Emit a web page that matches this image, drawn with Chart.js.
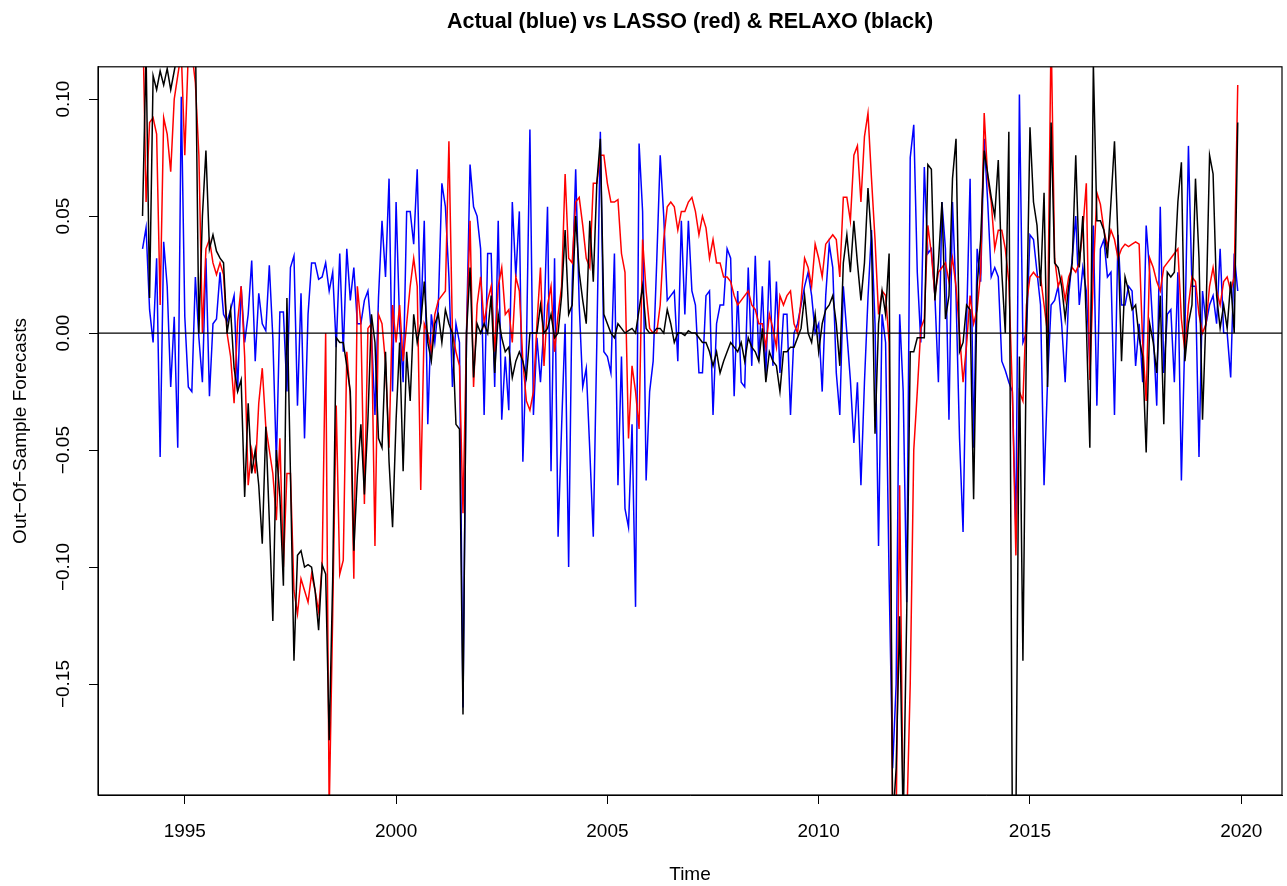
<!DOCTYPE html>
<html>
<head>
<meta charset="utf-8">
<title>Actual vs LASSO & RELAXO</title>
<script src="https://cdn.jsdelivr.net/npm/chart.js@4.4.1/dist/chart.umd.min.js"></script>
<style>
  html, body { margin: 0; padding: 0; background: #fff; }
  #wrap { width: 1287px; height: 886px; }
</style>
</head>
<body>
<div id="wrap"><canvas id="forecastChart" width="1287" height="886"></canvas></div>
<script>
// monthly series, Jan 1994 - Dec 2019 (one row per year)
const startYear = 1994;

const actual = [
  0.036, 0.045, 0.010, -0.004, 0.032, -0.053, 0.039, 0.020, -0.023, 0.007, -0.049, 0.101,
  0.007, -0.023, -0.025, 0.024, -0.002, -0.021, 0.032, -0.027, 0.004, 0.006, 0.026, 0.008,
  0.005, 0.010, 0.016, -0.025, 0.020, -0.004, 0.008, 0.031, -0.012, 0.017, 0.004, 0.001,
  0.029, -0.002, -0.055, 0.009, 0.009, -0.025, 0.028, 0.033, -0.031, 0.017, -0.045, 0.008,
  0.030, 0.030, 0.023, 0.024, 0.030, 0.018, 0.026, -0.006, 0.034, -0.008, 0.036, 0.014,
  0.028, 0.004, 0.004, 0.014, 0.018, 0.000, -0.035, 0.015, 0.048, 0.024, 0.066, -0.025,
  0.056, 0.004, -0.021, 0.052, 0.052, 0.038, 0.070, 0.004, 0.048, -0.039, 0.008, -0.004,
  0.012, 0.064, 0.054, 0.024, -0.023, 0.004, -0.004, -0.160, 0.000, 0.072, 0.054, 0.050,
  0.036, -0.035, 0.034, 0.034, -0.023, 0.048, -0.037, -0.010, -0.033, 0.056, 0.024, 0.052,
  -0.055, -0.008, 0.087, -0.035, -0.002, -0.021, 0.004, 0.054, -0.059, 0.032, -0.087, -0.040,
  0.004, -0.100, 0.020, 0.070, 0.012, -0.023, -0.015, -0.050, -0.087, -0.004, 0.086, -0.008,
  -0.010, -0.017, 0.034, -0.065, -0.010, -0.075, -0.083, -0.039, -0.117, 0.081, 0.052, -0.063,
  -0.025, -0.012, 0.030, 0.076, 0.050, 0.014, 0.016, 0.018, -0.012, 0.048, 0.008, 0.048,
  0.018, 0.012, -0.017, -0.017, 0.016, 0.018, -0.035, 0.004, 0.012, 0.012, 0.036, 0.032,
  -0.027, 0.018, -0.021, -0.023, 0.028, -0.014, 0.033, -0.012, 0.020, -0.018, 0.031, -0.014,
  0.022, -0.017, 0.008, 0.008, -0.035, 0.000, 0.004, 0.012, 0.020, 0.026, 0.016, 0.000,
  0.004, -0.025, 0.016, 0.038, 0.028, -0.017, -0.035, 0.020, 0.000, -0.020, -0.047, -0.021,
  -0.065, -0.021, 0.015, 0.044, 0.004, -0.091, 0.008, -0.004, -0.105, -0.186, -0.150, 0.008,
  -0.025, -0.115, 0.075, 0.089, 0.026, -0.004, 0.071, 0.034, 0.036, 0.016, -0.021, 0.056,
  0.036, -0.037, 0.056, 0.016, -0.045, -0.085, 0.004, 0.066, -0.049, 0.036, 0.022, 0.083,
  0.056, 0.024, 0.028, 0.024, -0.012, -0.016, -0.021, -0.025, -0.085, 0.102, -0.004, 0.000,
  0.042, 0.040, 0.026, 0.012, -0.065, -0.020, 0.012, 0.014, 0.020, 0.004, -0.021, 0.016,
  0.032, 0.050, 0.012, 0.028, 0.018, -0.014, 0.046, -0.031, 0.036, 0.040, 0.024, 0.026,
  -0.035, 0.042, 0.012, 0.012, 0.020, 0.018, -0.014, 0.004, -0.021, 0.046, 0.026, 0.000,
  -0.031, 0.054, -0.017, 0.008, 0.010, -0.021, 0.026, -0.063, 0.000, 0.080, 0.020, 0.020,
  -0.053, 0.018, 0.004, 0.012, 0.016, 0.004, 0.036, 0.000, 0.000, -0.019, 0.034, 0.018
];

const lasso = [
  0.140, 0.056, 0.090, 0.092, 0.085, 0.012, 0.092, 0.085, 0.069, 0.100, 0.110, 0.120,
  0.076, 0.120, 0.120, 0.107, 0.076, 0.000, 0.036, 0.040, 0.030, 0.025, 0.030, 0.025,
  0.000, -0.010, -0.030, 0.005, 0.020, -0.010, -0.065, -0.050, -0.060, -0.030, -0.015, -0.040,
  -0.050, -0.060, -0.080, -0.045, -0.100, -0.060, -0.060, -0.110, -0.120, -0.105, -0.110, -0.115,
  -0.103, -0.110, -0.119, -0.099, 0.000, -0.205, -0.120, -0.031, -0.103, -0.097, -0.008, -0.027,
  -0.105, 0.020, 0.004, -0.073, 0.002, 0.004, -0.091, 0.008, 0.004, -0.013, -0.049, 0.012,
  -0.004, 0.012, -0.012, 0.004, 0.020, 0.032, 0.020, -0.067, 0.004, 0.000, -0.008, 0.008,
  0.014, 0.016, 0.018, 0.082, 0.000, -0.008, -0.014, -0.077, 0.000, 0.048, -0.023, 0.012,
  0.024, 0.004, 0.014, 0.020, -0.008, 0.020, 0.028, 0.008, 0.010, -0.004, 0.024, 0.018,
  -0.012, -0.029, -0.033, -0.025, 0.004, 0.028, -0.014, 0.012, 0.020, -0.008, 0.008, 0.020,
  0.068, 0.032, 0.030, 0.056, 0.058, 0.046, 0.032, 0.028, 0.064, 0.064, 0.076, 0.076,
  0.064, 0.056, 0.056, 0.057, 0.034, 0.026, -0.045, -0.014, -0.025, -0.041, 0.040, 0.018,
  0.002, 0.000, 0.000, 0.012, 0.040, 0.054, 0.056, 0.054, 0.044, 0.052, 0.052, 0.056,
  0.058, 0.052, 0.042, 0.050, 0.045, 0.032, 0.040, 0.030, 0.030, 0.024, 0.024, 0.022,
  0.016, 0.012, 0.014, 0.016, 0.018, 0.012, 0.010, 0.004, 0.004, -0.006, 0.008, 0.002,
  -0.006, 0.016, 0.012, 0.016, 0.018, 0.004, 0.000, 0.014, 0.032, 0.028, 0.020, 0.038,
  0.032, 0.024, 0.038, 0.040, 0.042, 0.040, 0.024, 0.058, 0.058, 0.048, 0.076, 0.080,
  0.056, 0.084, 0.094, 0.066, 0.040, 0.008, 0.018, 0.016, -0.004, -0.210, -0.210, -0.065,
  -0.210, -0.210, -0.150, -0.050, -0.025, 0.002, 0.006, 0.046, 0.034, 0.016, 0.026, 0.028,
  0.030, 0.022, 0.032, 0.020, 0.000, -0.021, -0.005, 0.016, 0.004, 0.010, 0.026, 0.094,
  0.066, 0.056, 0.036, 0.044, 0.044, 0.036, 0.022, -0.025, -0.095, -0.025, -0.029, 0.012,
  0.024, 0.026, 0.024, 0.024, 0.012, 0.000, 0.130, 0.032, 0.020, 0.024, 0.014, 0.024,
  0.028, 0.026, 0.030, 0.044, 0.064, -0.020, 0.025, 0.060, 0.055, 0.044, 0.037, 0.044,
  0.040, 0.032, 0.036, 0.038, 0.037, 0.038, 0.039, 0.038, -0.004, -0.029, 0.032, 0.028,
  0.022, 0.018, 0.028, 0.030, 0.032, 0.034, 0.036, 0.006, -0.008, 0.012, 0.024, 0.022,
  0.008, 0.000, 0.004, 0.020, 0.028, 0.018, 0.012, 0.022, 0.024, 0.018, 0.024, 0.106
];

const relaxo = [
  0.050, 0.120, 0.015, 0.110, 0.104, 0.112, 0.106, 0.113, 0.104, 0.112, 0.120, 0.125,
  0.130, 0.120, 0.130, 0.130, 0.000, 0.050, 0.078, 0.036, 0.042, 0.035, 0.032, 0.030,
  0.000, 0.010, -0.015, -0.025, -0.020, -0.070, -0.030, -0.060, -0.050, -0.065, -0.090, -0.040,
  -0.080, -0.123, -0.050, -0.070, -0.108, 0.015, -0.060, -0.140, -0.095, -0.093, -0.100, -0.099,
  -0.100, -0.110, -0.127, -0.099, -0.103, -0.174, -0.105, -0.002, -0.004, -0.004, -0.014, -0.025,
  -0.093, -0.061, -0.039, -0.069, -0.037, 0.008, -0.004, -0.045, -0.049, -0.008, -0.055, -0.083,
  -0.037, -0.004, -0.059, -0.008, -0.029, 0.008, -0.004, 0.004, 0.022, -0.004, -0.012, 0.004,
  0.008, -0.004, 0.010, 0.004, 0.000, -0.039, -0.041, -0.163, 0.000, 0.028, -0.019, 0.004,
  0.000, 0.004, 0.000, 0.016, -0.017, 0.008, -0.002, -0.008, -0.006, -0.019, -0.012, -0.008,
  -0.012, -0.019, 0.000, 0.000, 0.000, 0.012, 0.000, 0.002, 0.008, -0.002, 0.000, 0.016,
  0.044, 0.008, 0.012, 0.050, 0.026, 0.014, 0.004, 0.048, 0.022, 0.064, 0.083, 0.008,
  0.004, 0.000, -0.002, 0.004, 0.002, 0.000, 0.001, 0.002, 0.000, 0.010, 0.020, 0.002,
  0.000, 0.000, 0.002, 0.002, 0.000, 0.010, 0.004, -0.004, 0.000, 0.000, -0.001, 0.001,
  0.000, 0.000, -0.002, -0.004, -0.004, -0.008, -0.014, -0.008, -0.017, -0.012, -0.008, -0.004,
  -0.006, -0.008, -0.004, -0.012, -0.002, -0.006, -0.008, -0.012, 0.002, -0.021, -0.008, -0.012,
  -0.014, -0.025, -0.008, -0.008, -0.006, -0.006, -0.002, 0.002, 0.016, 0.000, -0.004, 0.008,
  -0.008, 0.004, 0.010, 0.012, 0.016, 0.004, -0.014, 0.030, 0.042, 0.026, 0.048, 0.030,
  0.014, 0.030, 0.062, 0.040, -0.043, 0.004, 0.018, 0.008, 0.034, -0.210, -0.186, -0.121,
  -0.210, -0.120, -0.008, -0.008, -0.002, -0.002, -0.002, 0.072, 0.070, 0.014, 0.030, 0.056,
  0.006, 0.016, 0.066, 0.083, -0.008, -0.004, 0.012, 0.010, -0.071, 0.020, 0.040, 0.078,
  0.068, 0.058, 0.050, 0.074, 0.026, 0.000, 0.086, -0.210, -0.210, -0.010, -0.140, 0.000,
  0.088, 0.056, 0.046, 0.020, 0.060, -0.023, 0.090, 0.030, 0.028, 0.020, 0.006, 0.020,
  0.030, 0.076, 0.028, 0.050, 0.004, -0.049, 0.115, 0.048, 0.048, 0.044, 0.032, 0.056,
  0.082, 0.040, -0.012, 0.024, 0.018, 0.010, 0.012, -0.002, -0.010, -0.051, 0.004, -0.004,
  -0.017, 0.016, -0.039, 0.026, 0.024, 0.026, 0.056, 0.073, -0.012, 0.004, 0.012, 0.066,
  0.032, -0.037, 0.008, 0.076, 0.068, 0.016, 0.002, 0.012, 0.002, 0.022, 0.000, 0.090
];

const yearTicks = [1995, 2000, 2005, 2010, 2015, 2020];
const valueTicks = [-0.15, -0.10, -0.05, 0.00, 0.05, 0.10];

const FONT = '"Liberation Sans", Arial, Helvetica, sans-serif';

function toPoints(values) {
    return values.map((v, i) => ({ x: startYear + i / 12, y: v }));
}

// R-style frame, zero line and vertical y tick labels
const rStyle = {
    id: 'rStyle',
    afterDatasetsDraw(chart) {
        const ctx = chart.ctx;
        const a = chart.chartArea;
        const y0 = chart.scales.y.getPixelForValue(0);
        ctx.save();
        ctx.strokeStyle = '#000';
        ctx.lineWidth = 1.4;
        ctx.beginPath();
        ctx.moveTo(a.left, y0);
        ctx.lineTo(a.right, y0);
        ctx.stroke();
        ctx.lineWidth = 1.2;
        ctx.strokeRect(a.left, a.top, a.right - a.left, a.bottom - a.top);
        ctx.restore();
    },
    afterDraw(chart) {
        const ctx = chart.ctx;
        const ys = chart.scales.y;
        ctx.save();
        ctx.fillStyle = '#000';
        ctx.font = '19px ' + FONT;
        ctx.textAlign = 'center';
        ctx.textBaseline = 'middle';
        ys.ticks.forEach(t => {
            const py = ys.getPixelForValue(t.value);
            ctx.save();
            ctx.translate(64, py);
            ctx.rotate(-Math.PI / 2);
            ctx.fillText(t.value.toFixed(2).replace('-', '\u2212'), 0, 0);
            ctx.restore();
        });
        ctx.restore();
    }
};

const ctx = document.getElementById('forecastChart');

let forecastChart = new Chart(ctx, {
    type: 'line',
    data: {
        datasets: [
            {
                label: 'Actual',
                data: toPoints(actual),
                borderColor: '#0000ff',
                borderWidth: 1.5,
                pointRadius: 0,
                tension: 0,
                fill: false,
                order: 3
            },
            {
                label: 'LASSO',
                data: toPoints(lasso),
                borderColor: '#ff0000',
                borderWidth: 1.5,
                pointRadius: 0,
                tension: 0,
                fill: false,
                order: 2
            },
            {
                label: 'RELAXO',
                data: toPoints(relaxo),
                borderColor: '#000000',
                borderWidth: 1.5,
                pointRadius: 0,
                tension: 0,
                fill: false,
                order: 1
            }
        ]
    },
    options: {
        responsive: false,
        animation: false,
        devicePixelRatio: 1,
        layout: { padding: { left: 0, right: 5, top: 0, bottom: 0 } },
        plugins: {
            legend: { display: false },
            tooltip: { enabled: false },
            title: {
                display: true,
                fullSize: false,
                text: 'Actual (blue) vs LASSO (red) & RELAXO (black)',
                color: '#000',
                font: { family: FONT, size: 21.5, weight: 'bold' },
                padding: { top: 9, bottom: 32 }
            }
        },
        scales: {
            x: {
                type: 'linear',
                min: 1992.946,
                max: 2020.964,
                afterBuildTicks: s => { s.ticks = yearTicks.map(v => ({ value: v })); },
                afterFit: s => { s.height = 91; },
                ticks: {
                    color: '#000',
                    font: { family: FONT, size: 19 },
                    padding: 16,
                    maxRotation: 0,
                    callback: v => String(v)
                },
                grid: { display: true, drawOnChartArea: false, drawTicks: true, tickLength: 9, color: '#000', lineWidth: 1 },
                border: { display: true, color: '#000', width: 1 },
                title: {
                    display: true,
                    text: 'Time',
                    color: '#000',
                    font: { family: FONT, size: 19 },
                    padding: { top: 0, bottom: 0 }
                }
            },
            y: {
                type: 'linear',
                min: -0.1974,
                max: 0.1138,
                afterBuildTicks: s => { s.ticks = valueTicks.map(v => ({ value: v })); },
                afterFit: s => { s.width = 98; },
                ticks: { display: false },
                grid: { display: true, drawOnChartArea: false, drawTicks: true, tickLength: 9, color: '#000', lineWidth: 1 },
                border: { display: true, color: '#000', width: 1 },
                title: {
                    display: true,
                    text: 'Out\u2212Of\u2212Sample Forecasts',
                    color: '#000',
                    font: { family: FONT, size: 19 },
                    padding: { top: 9, bottom: 0 }
                }
            }
        }
    },
    plugins: [rStyle]
});
</script>
</body>
</html>
